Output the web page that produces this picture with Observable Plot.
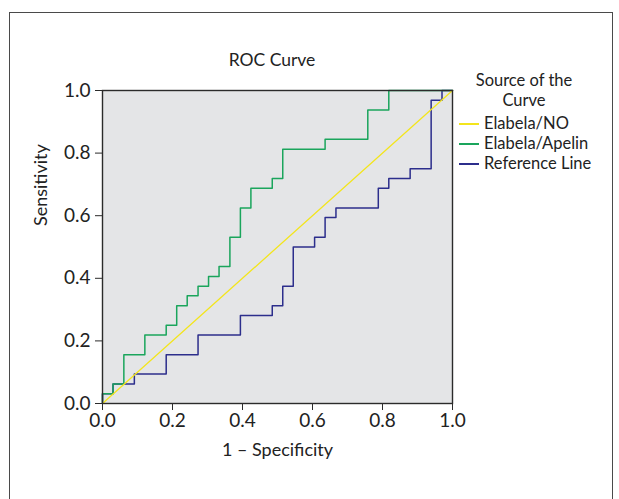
<!DOCTYPE html>
<html>
<head>
<meta charset="utf-8">
<script src="https://cdn.jsdelivr.net/npm/d3@7"></script>
<script src="https://cdn.jsdelivr.net/npm/@observablehq/plot@0.6"></script>
<style>
  html, body { margin: 0; padding: 0; background: #fff; }
  body { font-family: Lato, "Open Sans", sans-serif; color: #222; }
  #wrap { position: relative; width: 619px; height: 499px; overflow: hidden; }
  #box { position: absolute; left: 9px; top: 12px; width: 604px; height: 560px; border: 1px solid #4a4a4a; box-sizing: border-box; }
  #chart { position: absolute; left: 0; top: 0; }
  #title { position: absolute; left: 172px; width: 200px; top: 49px; text-align: center; font-size: 17.5px; line-height: 22px; }
  #legend { position: absolute; left: 454px; top: 70px; width: 150px; font-size: 16.5px; }
  #legend .lt { text-align: center; line-height: 20px; height: 20px; width: 140px; font-size: 16.5px; }
  #legend .row { position: relative; height: 20px; line-height: 20px; }
  #legend .sw { position: absolute; left: 5px; top: 10px; width: 20px; height: 2px; }
  #legend .tx { position: absolute; left: 30px; top: 0; white-space: nowrap; font-size: 16.5px; }
  #chart svg [aria-label$="tick label"] { font-size: 19px; }
</style>
</head>
<body>
<div id="wrap">
  <div id="box"></div>
  <div id="chart"></div>
  <div id="title"></div>
  <div id="legend"></div>
</div>
<script>
// ---- data ----
const chartTitle = "ROC Curve";
const xLabel = "1 – Specificity";
const yLabel = "Sensitivity";
const xTicks = [0, 0.2, 0.4, 0.6, 0.8, 1.0];
const yTicks = [0, 0.2, 0.4, 0.6, 0.8, 1.0];
const legendTitle = ["Source of the", "Curve"];
const seriesNames = ["Elabela/NO", "Elabela/Apelin", "Reference Line"];
const seriesColors = ["#f3e51c", "#1aa55c", "#2c2e8c"];

// Elabela/NO (drawn as the diagonal)
const noFpr = [0, 1];
const noTpr = [0, 1];

// Elabela/Apelin (green) – corner points, vertical step first
const apelinFpr = [0, 0.030, 0.061, 0.121, 0.182, 0.212, 0.242, 0.273, 0.303, 0.333, 0.364, 0.394, 0.424, 0.485, 0.515, 0.636, 0.758, 0.818, 1];
const apelinTpr = [0, 0.031, 0.0625, 0.156, 0.219, 0.25, 0.3125, 0.344, 0.375, 0.406, 0.4375, 0.531, 0.625, 0.6875, 0.719, 0.8125, 0.844, 0.9375, 1];

// Reference Line (blue) – corner points, vertical step first
const refFpr = [0, 0.030, 0.091, 0.182, 0.273, 0.394, 0.485, 0.515, 0.545, 0.606, 0.636, 0.667, 0.788, 0.818, 0.879, 0.939, 0.970, 1];
const refTpr = [0, 0.031, 0.0625, 0.094, 0.156, 0.219, 0.281, 0.3125, 0.375, 0.5, 0.531, 0.594, 0.625, 0.6875, 0.719, 0.75, 0.969, 1];

// ---- build tables ----
const toRows = (xs, ys) => xs.map((x, i) => ({x, y: ys[i]}));
const noRows = toRows(noFpr, noTpr);
const apelinRows = toRows(apelinFpr, apelinTpr);
const refRows = toRows(refFpr, refTpr);

const fmt = d3.format(".1f");
const font = "Lato, 'Open Sans', sans-serif";

const chart = Plot.plot({
  width: 619,
  height: 499,
  marginLeft: 102,
  marginRight: 167,
  marginTop: 90,
  marginBottom: 96,
  x: {domain: [0, 1]},
  y: {domain: [0, 1]},
  style: {fontFamily: font, fontSize: "19px", background: "transparent", color: "#222"},
  marks: [
    Plot.frame({fill: "#e4e5e7", stroke: null}),
    Plot.line(refRows, {x: "x", y: "y", curve: "step-before", stroke: seriesColors[2], strokeWidth: 1.5}),
    Plot.line(apelinRows, {x: "x", y: "y", curve: "step-before", stroke: seriesColors[1], strokeWidth: 1.5}),
    Plot.line(noRows, {x: "x", y: "y", stroke: seriesColors[0], strokeWidth: 1.3}),
    Plot.frame({stroke: "#2b2b2b", strokeWidth: 1.4}),
    Plot.axisX({ticks: xTicks, tickFormat: fmt, tickSize: 7, tickPadding: 3, label: null, stroke: "#2b2b2b", fontSize: 19}),
    Plot.axisY({ticks: yTicks, tickFormat: fmt, tickSize: 7, tickPadding: 5, label: null, stroke: "#2b2b2b", fontSize: 19}),
    Plot.text([xLabel], {frameAnchor: "bottom", dy: 52, fontSize: 18, fill: "#222"}),
    Plot.text([yLabel], {frameAnchor: "left", dx: -61, dy: -21, rotate: -90, fontSize: 18, fill: "#222"})
  ]
});
document.getElementById("chart").appendChild(chart);

document.getElementById("title").textContent = chartTitle;

const legend = document.getElementById("legend");
legendTitle.forEach(t => {
  const d = document.createElement("div");
  d.className = "lt";
  d.textContent = t;
  legend.appendChild(d);
});
const gap = document.createElement("div");
gap.style.height = "3px";
legend.appendChild(gap);
seriesNames.forEach((name, i) => {
  const row = document.createElement("div");
  row.className = "row";
  const sw = document.createElement("div");
  sw.className = "sw";
  sw.style.background = seriesColors[i];
  const tx = document.createElement("div");
  tx.className = "tx";
  tx.textContent = name;
  row.appendChild(sw);
  row.appendChild(tx);
  legend.appendChild(row);
});
</script>
</body>
</html>
